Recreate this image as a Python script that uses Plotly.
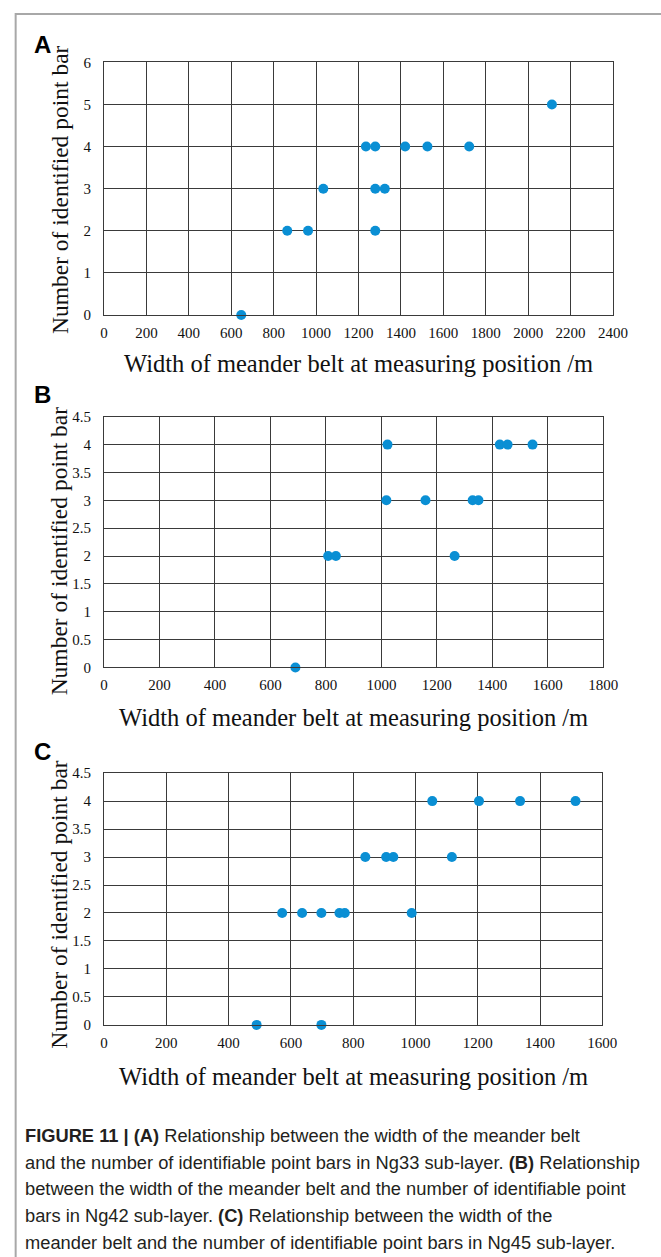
import plotly.graph_objects as go

W, H = 661, 1257

# ---------------- data ----------------
a_x = [647, 864, 962, 1034, 1235, 1279, 1279, 1279, 1324, 1420, 1525, 1722, 2112]
a_y = [0, 2, 2, 3, 4, 4, 3, 2, 3, 4, 4, 4, 5]

b_x = [690, 808, 836, 1018, 1022, 1159, 1264, 1329, 1350, 1427, 1455, 1545]
b_y = [0, 2, 2, 3, 4, 3, 2, 3, 3, 4, 4, 4]

c_x = [490, 572, 636, 698, 698, 756, 773, 839, 906, 929, 988, 1054, 1117, 1204, 1336, 1514]
c_y = [0, 2, 2, 2, 0, 2, 2, 3, 3, 3, 2, 4, 3, 4, 4, 4]

x_title = "Width of meander belt at measuring position /m"
y_title = "Number of identified point bar"
panel_labels = ["A", "B", "C"]

caption_lines = [
    "<b>FIGURE 11 | (A)</b> Relationship between the width of the meander belt",
    "and the number of identifiable point bars in Ng33 sub-layer. <b>(B)</b> Relationship",
    "between the width of the meander belt and the number of identifiable point",
    "bars in Ng42 sub-layer. <b>(C)</b> Relationship between the width of the",
    "meander belt and the number of identifiable point bars in Ng45 sub-layer.",
]

# ---------------- layout helpers ----------------
def px(x):
    return x / W

def py(y):
    return 1 - y / H

panels = [
    dict(l=103, r=627, t=55, b=311, xr=[0, 2400], yr=[0, 6], ydt=1, xs=a_x, ys=a_y,
         lab_y=37, xt_y=360, yt_y=184),
    dict(l=103, r=617, t=414, b=668, xr=[0, 1800], yr=[0, 4.5], ydt=0.5, xs=b_x, ys=b_y,
         lab_y=391, xt_y=719, yt_y=550),
    dict(l=103, r=616, t=775, b=1030, xr=[0, 1600], yr=[0, 4.5], ydt=0.5, xs=c_x, ys=c_y,
         lab_y=753, xt_y=1082, yt_y=908),
]

GRID = "#3a3a3a"
SERIF = "Liberation Serif, Times New Roman, serif"
SANS = "Liberation Sans, Arial, sans-serif"
MARK = "#0a8fd4"

fig = go.Figure()
annotations = []
layout = dict(
    width=W, height=H,
    margin=dict(l=0, r=0, t=0, b=0),
    paper_bgcolor="white", plot_bgcolor="white",
    showlegend=False,
)

for i, p in enumerate(panels):
    n = "" if i == 0 else str(i + 1)
    fig.add_trace(go.Scatter(
        x=p["xs"], y=p["ys"], mode="markers",
        marker=dict(color=MARK, size=10, line=dict(width=0)),
        xaxis="x" + n, yaxis="y" + n, cliponaxis=False, hoverinfo="x+y",
    ))
    layout["xaxis" + n] = dict(
        domain=[px(p["l"]), px(p["r"])], anchor="y" + n,
        range=p["xr"], dtick=200, tick0=0,
        showgrid=True, gridcolor=GRID, gridwidth=1,
        showline=True, linecolor=GRID, linewidth=1, mirror=True,
        zeroline=False,
        ticks="outside", ticklen=4, tickcolor="rgba(0,0,0,0)",
        tickfont=dict(family=SERIF, size=15, color="#111"),
        fixedrange=True,
    )
    layout["yaxis" + n] = dict(
        domain=[py(p["b"]), py(p["t"])], anchor="x" + n,
        range=p["yr"], dtick=p["ydt"], tick0=0,
        showgrid=True, gridcolor=GRID, gridwidth=1,
        showline=True, linecolor=GRID, linewidth=1, mirror=True,
        zeroline=False,
        ticks="outside", ticklen=9, tickcolor="rgba(0,0,0,0)",
        tickfont=dict(family=SERIF, size=15, color="#111"),
        fixedrange=True,
    )
    annotations.append(dict(
        text="<b>%s</b>" % panel_labels[i], x=px(40), y=py(p["lab_y"]),
        xref="paper", yref="paper", showarrow=False,
        xanchor="center", yanchor="middle",
        font=dict(family=SANS, size=24, color="#000"),
    ))
    annotations.append(dict(
        text=x_title, x=px((p["l"] + p["r"]) / 2), y=py(p["xt_y"]),
        xref="paper", yref="paper", showarrow=False,
        xanchor="center", yanchor="middle",
        font=dict(family=SERIF, size=24.5, color="#111"),
    ))
    annotations.append(dict(
        text=y_title, x=px(57), y=py(p["yt_y"]),
        xref="paper", yref="paper", showarrow=False, textangle=-90,
        xanchor="center", yanchor="middle",
        font=dict(family=SERIF, size=23.5, color="#111"),
    ))

cap_top = 1142
cap_step = 27
for k, line in enumerate(caption_lines):
    annotations.append(dict(
        text=line, x=px(20), y=py(cap_top + k * cap_step),
        xref="paper", yref="paper", showarrow=False,
        xanchor="left", yanchor="middle", align="left",
        font=dict(family=SANS, size=18.3, color="#231f20"),
    ))

layout["annotations"] = annotations
layout["shapes"] = [dict(
    type="rect", xref="paper", yref="paper",
    x0=px(12), x1=1.05, y0=-0.05, y1=py(6),
    line=dict(color="#a8a8a8", width=2), fillcolor="rgba(0,0,0,0)", layer="below",
)]

fig.update_layout(**layout)
fig.write_html("out.html")
